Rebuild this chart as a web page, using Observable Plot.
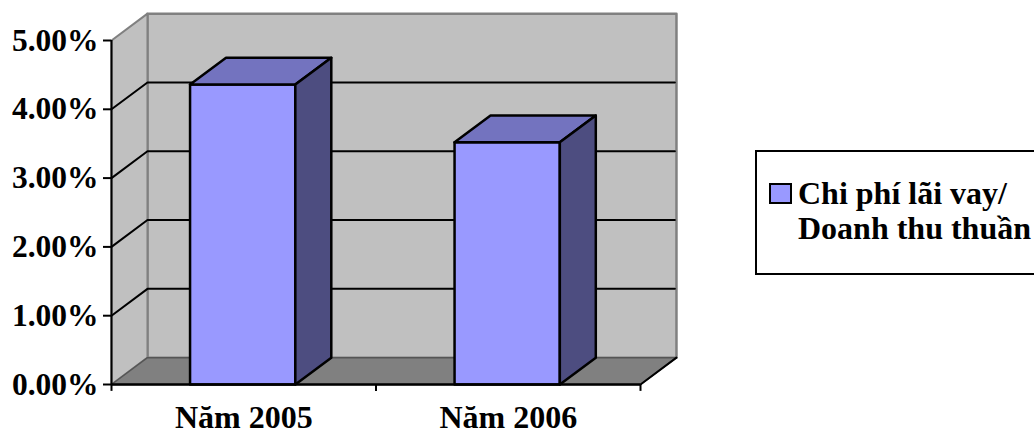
<!DOCTYPE html>
<html>
<head>
<meta charset="utf-8">
<script src="https://cdn.jsdelivr.net/npm/d3@7"></script>
<script src="https://cdn.jsdelivr.net/npm/@observablehq/plot@0.6"></script>
<style>
html,body{margin:0;padding:0;background:#fff;width:1034px;height:429px;overflow:hidden}
#wrap{position:relative;width:1034px;height:429px}
#wrap svg{display:block;position:absolute;left:0;top:0}
.legend{position:absolute;left:755px;top:150px;width:290px;height:125px;box-sizing:border-box;border:2px solid #000;background:#fff;
font:bold 32px "Liberation Serif",serif;color:#000}
.swatch{position:absolute;left:12px;top:31px;width:23px;height:21px;box-sizing:border-box;border:2px solid #000}
.legend .t{position:absolute;left:41px;white-space:nowrap;line-height:35px}
</style>
</head>
<body>
<div id="wrap"></div>
<script>
const categories = ["Năm 2005", "Năm 2006"];
const values = [4.36, 3.52];
const seriesName = ["Chi phí lãi vay/", "Doanh thu thuần"];
const yTicks = [0, 1, 2, 3, 4, 5];
const gridValues = [1, 2, 3, 4];
const xTicks = [0, 1, 2];

const depthX = 0.136, depthY = 0.39;    // oblique depth, in data units
const barGap = 0.297, barWidth = 0.398; // share of a category
const yMax = 5, xMax = categories.length;

const wall = "#c0c0c0", floor = "#808080", edge = "#808080";
const front = "#9999ff", topFace = "#7373bf", sideFace = "#4d4d80";

const pts = (...p) => p.map(([x, y]) => ({x, y}));
const face = (p, fill, stroke, strokeWidth = 2) =>
  Plot.line(p, {x: "x", y: "y", fill, stroke, strokeWidth, curve: "linear-closed"});
const seg = (p, stroke, strokeWidth = 2) =>
  Plot.line(p, {x: "x", y: "y", stroke, strokeWidth});

const marks = [
  // walls and floor
  face(pts([depthX, depthY], [xMax + depthX, depthY], [xMax + depthX, yMax + depthY], [depthX, yMax + depthY]), wall, edge, 2.5),
  face(pts([0, 0], [depthX, depthY], [depthX, yMax + depthY], [0, yMax]), wall, edge, 2),
  face(pts([0, 0], [xMax, 0], [xMax + depthX, depthY], [depthX, depthY]), floor, "#555", 1.5),
  // grid lines
  ...gridValues.map(v => seg(pts([0, v], [depthX, v + depthY], [xMax + depthX - 0.006, v + depthY]), "#000", 2)),
  seg(pts([xMax, 0], [xMax + depthX, depthY]), "#000", 2),
  // bars
  ...values.flatMap((v, i) => {
    const a = i + barGap, b = a + barWidth;
    return [
      face(pts([a, 0], [b, 0], [b, v], [a, v]), front, "#000", 2.5),
      face(pts([a, v], [b, v], [b + depthX, v + depthY], [a + depthX, v + depthY]), topFace, "#000", 2.5),
      face(pts([b, 0], [b + depthX, depthY], [b + depthX, v + depthY], [b, v]), sideFace, "#000", 2.5)
    ];
  }),
  // axes
  Plot.ruleX([0], {y1: 0, y2: yMax, stroke: "#000", strokeWidth: 2}),
  Plot.ruleY([0], {x1: 0, x2: xMax, stroke: "#000", strokeWidth: 2.5}),
  Plot.axisY({ticks: yTicks, tickFormat: d => d.toFixed(2) + "%", tickSize: 8, tickPadding: 5, strokeWidth: 2,
    stroke: "#000", fill: "#000", fontSize: 31.5, fontWeight: "bold", label: null}),
  Plot.ruleX(xTicks, {y1: 0, y2: -0.1, stroke: "#000", strokeWidth: 2}),
  Plot.text(categories, {x: (d, i) => i + 0.5, y: () => 0, text: d => d, dy: 33, fontSize: 32, fontWeight: "bold", fill: "#000"})
];

const chart = Plot.plot({
  width: 1034, height: 429,
  marginLeft: 111, marginRight: 394, marginTop: 40, marginBottom: 45,
  style: {fontFamily: "'Liberation Serif', serif", background: "#fff", overflow: "visible"},
  x: {type: "linear", domain: [0, xMax], axis: null},
  y: {type: "linear", domain: [0, yMax], label: null},
  marks
});
document.getElementById("wrap").append(chart);

const legend = document.createElement("div");
legend.className = "legend";
const sw = document.createElement("div");
sw.className = "swatch";
sw.style.background = front;
legend.append(sw);
seriesName.forEach((s, i) => {
  const t = document.createElement("div");
  t.className = "t";
  t.style.top = (24 + i * 35) + "px";
  t.textContent = s;
  legend.append(t);
});
document.getElementById("wrap").append(legend);
</script>
</body>
</html>
